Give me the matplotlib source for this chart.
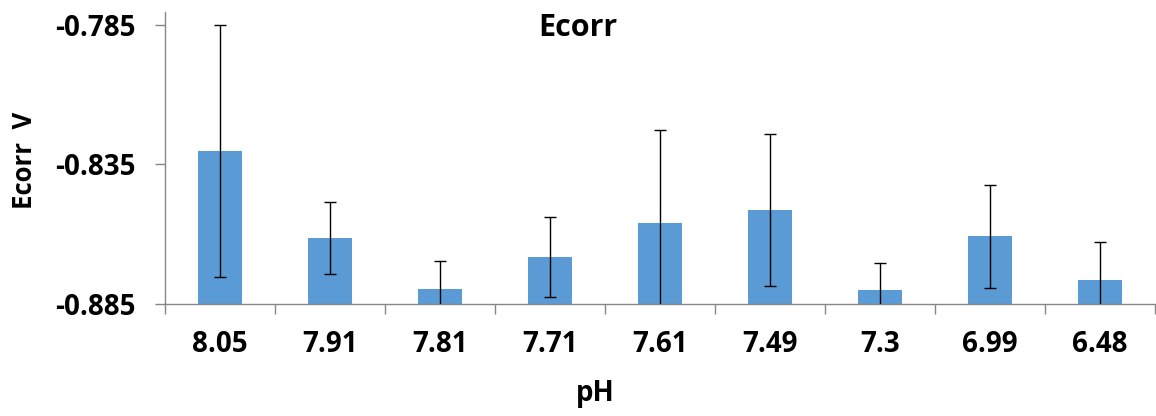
import numpy as np
import matplotlib.pyplot as plt

ph_labels = ['8.05', '7.91', '7.81', '7.71', '7.61', '7.49', '7.3', '6.99', '6.48']
ecorr = [-0.8302, -0.8614, -0.8796, -0.8683, -0.8561, -0.8515, -0.8801, -0.8608, -0.8763]
ecorr_err = [0.0452, 0.0128, 0.0101, 0.0143, 0.0333, 0.0272, 0.0097, 0.0183, 0.0134]

base = -0.885

plt.rcParams['font.family'] = ['Open Sans', 'DejaVu Sans']

fig = plt.figure(figsize=(11.56, 4.16), dpi=100)
ax = fig.add_axes([0.1427, 0.2692, 0.8563, 0.7018])

x = np.arange(len(ph_labels))
heights = np.array(ecorr) - base
ax.bar(x, heights, bottom=base, width=0.4, color='#5B9BD5', zorder=2)
ax.errorbar(x, ecorr, yerr=ecorr_err, fmt='none', ecolor='black',
            elinewidth=1.0, capsize=4.5, capthick=1.0, zorder=3)

ax.set_xlim(-0.5, len(ph_labels) - 0.5)
ax.set_ylim(base, -0.7805)
ax.set_yticks([-0.885, -0.835, -0.785])
ax.set_yticklabels(['-0.885', '-0.835', '-0.785'], fontsize=20, fontweight='bold')

ax.set_xticks(x)
ax.set_xticklabels(ph_labels, fontsize=20, fontweight='bold')
ax.tick_params(axis='x', which='major', length=0, pad=19)
ax.set_xticks(np.arange(len(ph_labels) + 1) - 0.5, minor=True)
ax.tick_params(axis='x', which='minor', length=7, color='#868686', width=1)
ax.tick_params(axis='y', length=7, color='#868686', width=1, pad=14)

for s in ['top', 'right']:
    ax.spines[s].set_visible(False)
for s in ['left', 'bottom']:
    ax.spines[s].set_color('#868686')
    ax.spines[s].set_linewidth(1)

fig.text(0.4995, 0.932, 'Ecorr', fontsize=22, fontweight='bold', ha='center', va='center')
fig.text(0.5147, 0.055, 'pH', fontsize=20, fontweight='bold', ha='center', va='center')
fig.text(0.0216, 0.615, 'Ecorr  V', fontsize=18.5, fontweight='bold', ha='center', va='center',
         rotation=90)

fig.savefig('out.png', dpi=100)
